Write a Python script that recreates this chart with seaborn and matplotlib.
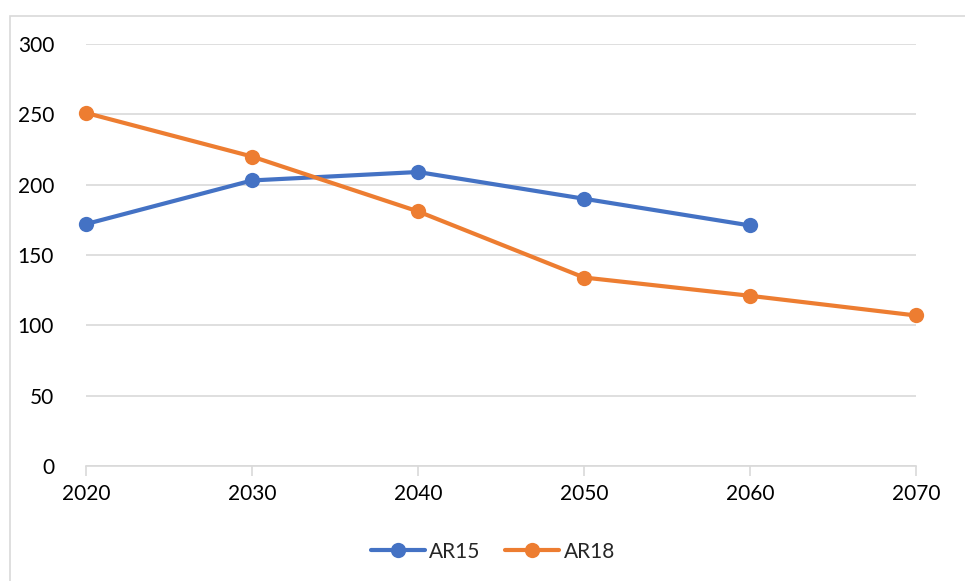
import matplotlib
matplotlib.use("Agg")
import matplotlib.pyplot as plt
import seaborn as sns
import pandas as pd
from matplotlib.patches import Rectangle

years_ar15 = [2020, 2030, 2040, 2050, 2060]
values_ar15 = [172, 203, 209, 190, 171]
years_ar18 = [2020, 2030, 2040, 2050, 2060, 2070]
values_ar18 = [251, 220, 181, 134, 121, 107]
x_ticks = [2020, 2030, 2040, 2050, 2060, 2070]
y_ticks = [0, 50, 100, 150, 200, 250, 300]
series_names = ["AR15", "AR18"]

df = pd.concat([
    pd.DataFrame({"year": years_ar15, "value": values_ar15, "series": series_names[0]}),
    pd.DataFrame({"year": years_ar18, "value": values_ar18, "series": series_names[1]}),
])

sns.set_theme(style="white")
plt.rcParams['font.family'] = ['Lato', 'DejaVu Sans']

fig = plt.figure(figsize=(9.65, 5.81), dpi=100)
ax = fig.add_axes([86/965, 1 - 466/581, (916 - 86)/965, (466 - 44)/581])

# outer chart border
fig.patches.append(Rectangle((10/965, -0.01), 1.0, 1 - 16/581 + 0.01, transform=fig.transFigure,
                             fill=False, edgecolor="#D9D9D9", linewidth=1.2))

palette = {"AR15": "#4472C4", "AR18": "#ED7D31"}
sns.lineplot(data=df, x="year", y="value", hue="series", palette=palette, ax=ax,
             marker="o", markersize=11, markeredgewidth=0, linewidth=3.0,
             clip_on=False, zorder=3)

ax.set_xlim(2020, 2070)
ax.set_ylim(0, 300)
ax.set_xticks(x_ticks)
ax.set_yticks(y_ticks)
ax.set_xticklabels([str(t) for t in x_ticks], fontsize=15, color="#000000")
ax.set_yticklabels([str(t) for t in y_ticks], fontsize=15, color="#000000")
ax.set_xlabel("")
ax.set_ylabel("")

ax.grid(axis="y", color="#D9D9D9", linewidth=1.2)
ax.set_axisbelow(True)
for s in ["top", "right", "left"]:
    ax.spines[s].set_visible(False)
ax.spines["bottom"].set_color("#D9D9D9")
ax.spines["bottom"].set_linewidth(1.2)
ax.tick_params(axis="x", which="major", bottom=True, length=7, width=1.2, color="#D9D9D9", pad=6)
ax.tick_params(axis="y", which="major", left=False, pad=17)

leg = ax.legend(loc="upper center", bbox_to_anchor=(0.49, -0.135), ncol=2, frameon=False,
                fontsize=15, handlelength=2.6, columnspacing=1.2, handletextpad=0.2)

fig.savefig("out.png", dpi=100, facecolor="white")
